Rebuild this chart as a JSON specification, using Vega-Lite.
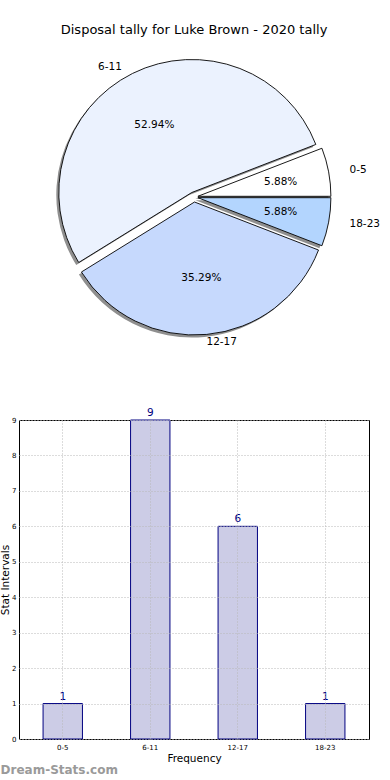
{
  "$schema": "https://vega.github.io/schema/vega-lite/v6.json",
  "padding": {"left": 0, "top": 24, "right": 0, "bottom": 0},
  "background": "white",
  "title": {"text": "Disposal tally for Luke Brown - 2020 tally", "font": "DejaVu Sans", "fontSize": 13, "fontWeight": "normal", "color": "black", "anchor": "middle", "offset": 10, "dx": 4},
  "config": {"font": "DejaVu Sans", "view": {"stroke": null}},
  "datasets": {
    "tally": [
      {"range": "0-5", "count": 1, "pct": "5.88%"},
      {"range": "6-11", "count": 9, "pct": "52.94%"},
      {"range": "12-17", "count": 6, "pct": "35.29%"},
      {"range": "18-23", "count": 1, "pct": "5.88%"}
    ]
  },
  "bounds": "flush",
  "spacing": 73,
  "vconcat": [
    {
      "width": 350,
      "height": 300,
      "data": {"name": "tally"},
      "transform": [{"stack": "count", "groupby": [], "as": ["t0", "t1"]}],
      "layer": [
        {"transform": [{"filter": "datum.range === '0-5'"}],
         "mark": {"type": "arc", "outerRadius": 133, "fill": "#8f8f8f", "stroke": null, "xOffset": 1.4, "yOffset": 1.8},
         "encoding": {"theta": {"field": "t0", "type": "quantitative", "stack": null, "scale": {"type": "linear", "domain": [0, 17], "range": [1.5707963, -4.712389]}}, "theta2": {"field": "t1"}}},
        {"transform": [{"filter": "datum.range === '6-11'"}],
         "mark": {"type": "arc", "outerRadius": 133, "fill": "#8f8f8f", "stroke": null, "xOffset": -4.7, "yOffset": -2},
         "encoding": {"theta": {"field": "t0", "type": "quantitative", "stack": null}, "theta2": {"field": "t1"}}},
        {"transform": [{"filter": "datum.range === '12-17'"}],
         "mark": {"type": "arc", "outerRadius": 133, "fill": "#8f8f8f", "stroke": null, "xOffset": -2, "yOffset": 7.5},
         "encoding": {"theta": {"field": "t0", "type": "quantitative", "stack": null}, "theta2": {"field": "t1"}}},
        {"transform": [{"filter": "datum.range === '18-23'"}],
         "mark": {"type": "arc", "outerRadius": 133, "fill": "#8f8f8f", "stroke": null, "xOffset": 1.4, "yOffset": 3.2},
         "encoding": {"theta": {"field": "t0", "type": "quantitative", "stack": null}, "theta2": {"field": "t1"}}},
        {"transform": [{"filter": "datum.range === '0-5'"}],
         "mark": {"type": "arc", "outerRadius": 133, "stroke": "black", "strokeWidth": 0.9, "xOffset": 3.9, "yOffset": -0.7},
         "encoding": {"theta": {"field": "t0", "type": "quantitative", "stack": null}, "theta2": {"field": "t1"},
           "color": {"field": "range", "type": "nominal", "scale": {"domain": ["0-5", "6-11", "12-17", "18-23"], "range": ["#ffffff", "#ebf2fe", "#c6d9fd", "#b3d5fe"]}, "legend": null}}},
        {"transform": [{"filter": "datum.range === '6-11'"}],
         "mark": {"type": "arc", "outerRadius": 133, "stroke": "black", "strokeWidth": 0.9, "xOffset": -2.2, "yOffset": -4.5},
         "encoding": {"theta": {"field": "t0", "type": "quantitative", "stack": null}, "theta2": {"field": "t1"},
           "color": {"field": "range", "type": "nominal", "legend": null}}},
        {"transform": [{"filter": "datum.range === '12-17'"}],
         "mark": {"type": "arc", "outerRadius": 133, "stroke": "black", "strokeWidth": 0.9, "xOffset": 0.5, "yOffset": 5},
         "encoding": {"theta": {"field": "t0", "type": "quantitative", "stack": null}, "theta2": {"field": "t1"},
           "color": {"field": "range", "type": "nominal", "legend": null}}},
        {"transform": [{"filter": "datum.range === '18-23'"}],
         "mark": {"type": "arc", "outerRadius": 133, "stroke": "black", "strokeWidth": 0.9, "xOffset": 3.9, "yOffset": 0.7},
         "encoding": {"theta": {"field": "t0", "type": "quantitative", "stack": null}, "theta2": {"field": "t1"},
           "color": {"field": "range", "type": "nominal", "legend": null}}},
        {"mark": {"type": "text", "radius": 80, "dx": 8, "fontSize": 10.5, "color": "black", "baseline": "middle", "align": "center"},
         "encoding": {"theta": {"field": "count", "type": "quantitative", "stack": true}, "order": {"field": "t0", "type": "quantitative"},
           "text": {"condition": {"test": "datum.range === '0-5' || datum.range === '18-23'", "field": "pct", "type": "nominal"}, "value": ""}}},
        {"mark": {"type": "text", "radius": 80, "dx": -4, "fontSize": 10.5, "color": "black", "baseline": "middle", "align": "center"},
         "encoding": {"theta": {"field": "count", "type": "quantitative", "stack": true}, "order": {"field": "t0", "type": "quantitative"},
           "text": {"condition": {"test": "datum.range === '6-11'", "field": "pct", "type": "nominal"}, "value": ""}}},
        {"mark": {"type": "text", "radius": 80, "dy": 1, "fontSize": 10.5, "color": "black", "baseline": "middle", "align": "center"},
         "encoding": {"theta": {"field": "count", "type": "quantitative", "stack": true}, "order": {"field": "t0", "type": "quantitative"},
           "text": {"condition": {"test": "datum.range === '12-17'", "field": "pct", "type": "nominal"}, "value": ""}}},
        {"mark": {"type": "text", "radius": 146, "dx": 12, "fontSize": 10.5, "color": "black", "baseline": "middle", "align": "left"},
         "encoding": {"theta": {"field": "count", "type": "quantitative", "stack": true}, "order": {"field": "t0", "type": "quantitative"},
           "text": {"condition": {"test": "datum.range === '0-5' || datum.range === '18-23'", "field": "range", "type": "nominal"}, "value": ""}}},
        {"mark": {"type": "text", "radius": 146, "dx": -1, "fontSize": 10.5, "color": "black", "baseline": "middle", "align": "left"},
         "encoding": {"theta": {"field": "count", "type": "quantitative", "stack": true}, "order": {"field": "t0", "type": "quantitative"},
           "text": {"condition": {"test": "datum.range === '12-17'", "field": "range", "type": "nominal"}, "value": ""}}},
        {"mark": {"type": "text", "radius": 146, "dx": -7, "dy": 1, "fontSize": 10.5, "color": "black", "baseline": "middle", "align": "right"},
         "encoding": {"theta": {"field": "count", "type": "quantitative", "stack": true}, "order": {"field": "t0", "type": "quantitative"},
           "text": {"condition": {"test": "datum.range === '6-11'", "field": "range", "type": "nominal"}, "value": ""}}}
      ]
    },
    {
      "width": 350,
      "height": 319,
      "data": {"name": "tally"},
      "view": {"stroke": "black", "strokeWidth": 1},
      "title": {"text": "Dream-Stats.com", "orient": "bottom", "anchor": "start", "frame": "bounds", "fontSize": 12, "fontWeight": "bold", "color": "#9a9a9a", "offset": 1},
      "encoding": {
        "x": {"field": "range", "type": "nominal", "sort": null,
          "scale": {"paddingInner": 0.55, "paddingOuter": 0.275},
          "axis": {"title": "Frequency", "titleFontSize": 10.5, "titleFontWeight": "normal", "titleColor": "black", "titlePadding": 3,
            "labelFontSize": 7, "labelAngle": 0, "labelColor": "black", "labelPadding": 4, "domain": false, "ticks": false,
            "grid": true, "gridDash": [1, 2], "gridColor": "#b8b8b8", "zindex": 1}},
        "y": {"field": "count", "type": "quantitative", "scale": {"domain": [0, 9], "nice": false},
          "axis": {"title": "Stat Intervals", "titleFontSize": 10.5, "titleFontWeight": "normal", "titleColor": "black", "titlePadding": 1,
            "values": [0, 1, 2, 3, 4, 5, 6, 7, 8, 9], "labelFontSize": 7, "labelColor": "black", "labelPadding": 3, "domain": false, "ticks": false,
            "grid": true, "gridDash": [1, 2], "gridColor": "#b8b8b8", "zindex": 1}}
      },
      "layer": [
        {"mark": {"type": "bar", "fill": "#ccccE6", "stroke": "#000080", "strokeWidth": 1}},
        {"mark": {"type": "text", "baseline": "bottom", "dy": -2, "color": "#000080", "fontSize": 10.5},
         "encoding": {"text": {"field": "count", "type": "quantitative"}}}
      ]
    }
  ]
}
